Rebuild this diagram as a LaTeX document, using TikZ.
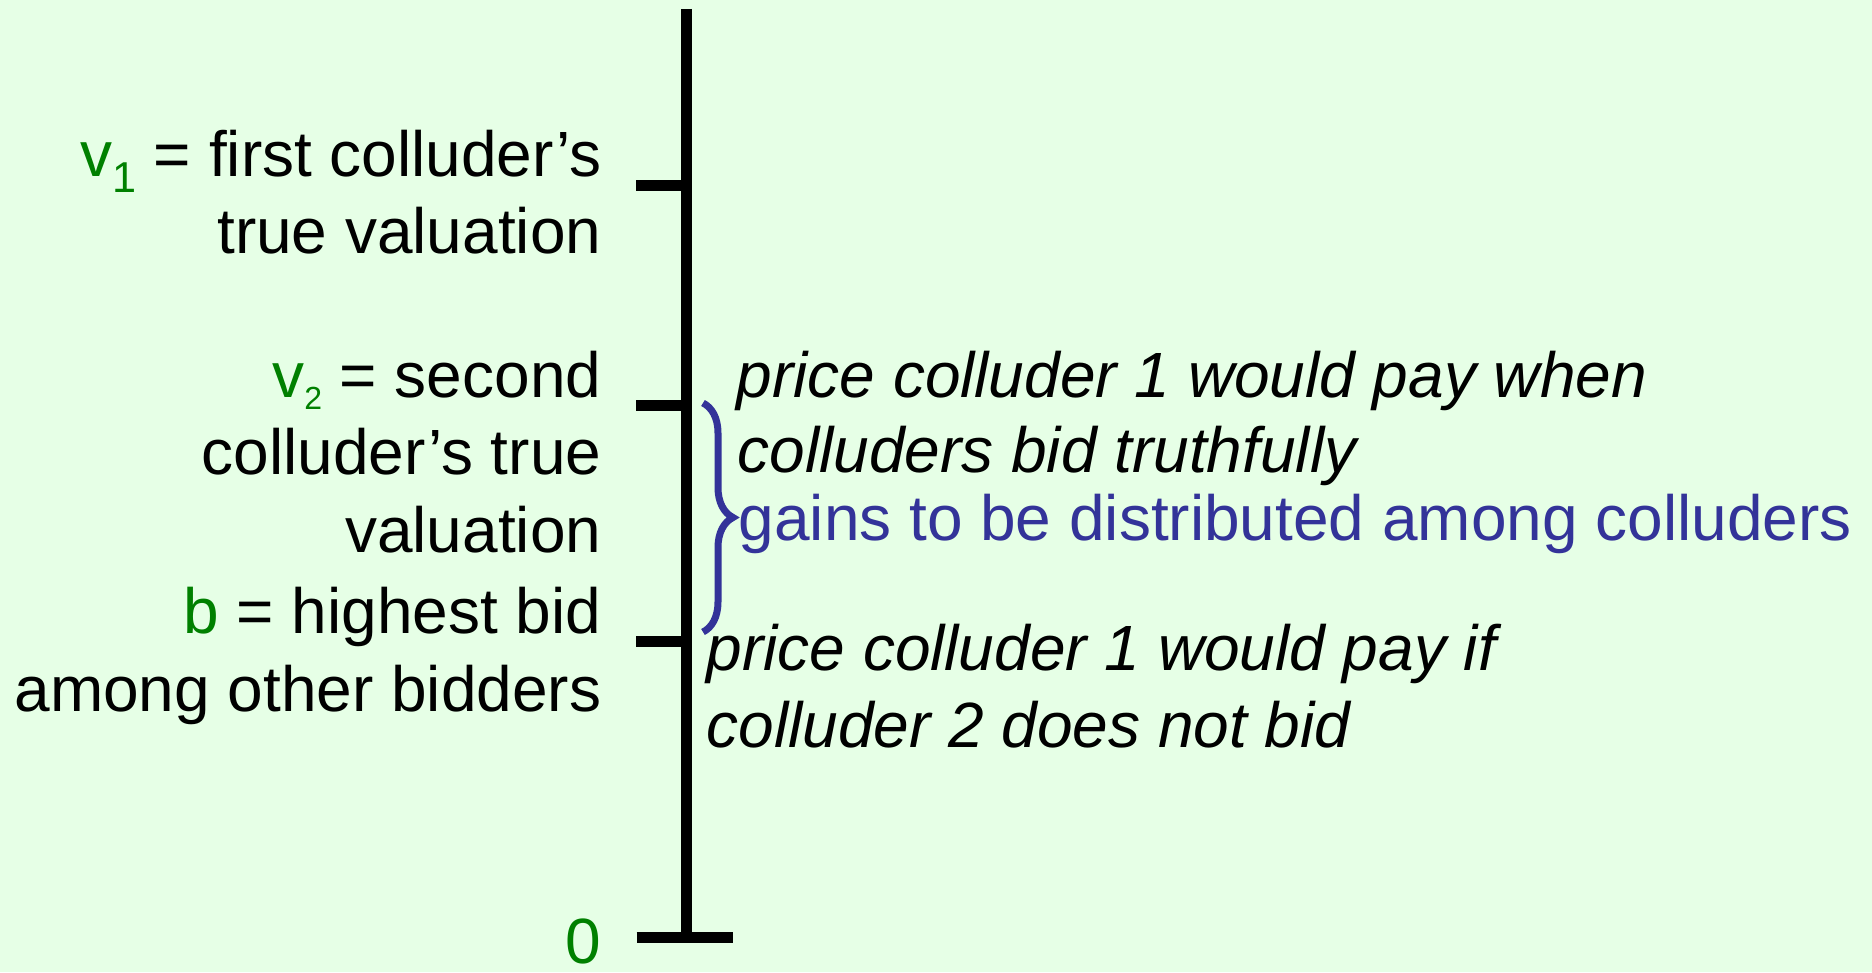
\documentclass[tikz,border=0pt]{standalone}
\usepackage{fontspec}
\setmainfont{Liberation Sans}
\usepackage{tikz}
\usetikzlibrary{positioning, decorations.pathreplacing}
\usepackage{color}

\definecolor{bggreen}{RGB}{230,255,230}
\definecolor{valgreen}{RGB}{0,128,0}
\definecolor{gainblue}{RGB}{51,51,153}

% green value with a lowered index
\newcommand{\valsub}[4]{\textcolor{valgreen}{#1\raisebox{-#4}{\fontsize{#3}{#3}\selectfont #2}}}

\tikzset{
    lbl/.style={font=\fontsize{18.2pt}{21.9pt}\selectfont, inner sep=0pt},
    leftlbl/.style={lbl, anchor=base east},
    pricelbl/.style={lbl, anchor=base west, font=\fontsize{18.2pt}{21.9pt}\selectfont\itshape},
    gainlbl/.style={lbl, anchor=base west, text=gainblue},
    axisline/.style={line width=0.11cm},
}

\begin{document}
\begin{tikzpicture}
        % Background and size of the picture
        \fill[bggreen] (0,0) rectangle (18.72,9.72);
        \useasboundingbox (0,0) rectangle (18.72,9.72);

        % Points on the axis
        \coordinate (top) at (6.86,9.63);
        \coordinate (v1) at (6.86,7.865);
        \coordinate (v2) at (6.86,5.66);
        \coordinate (b) at (6.86,3.30);
        \coordinate (zero) at (6.86,0.345);

        % Draw the axis and the ticks
        \draw[axisline] (top) -- (zero);
        \draw[axisline] (v1) -- ++(-0.5,0);
        \draw[axisline] (v2) -- ++(-0.5,0);
        \draw[axisline] (b) -- ++(-0.5,0);
        \draw[axisline] (zero) ++(-0.495,0) -- ++(0.96,0);

        % Add text left of the axis
        \node[leftlbl] (v1a) at (6.02,7.95) {\valsub{v}{1}{12.3pt}{4.5pt} = first colluder’s};
        \node[leftlbl] (v1b) at (6.02,7.18) {true valuation};
        \node[leftlbl] (v2a) at (6.02,5.74) {\valsub{v}{2}{9.1pt}{3.4pt} = second};
        \node[leftlbl] (v2b) at (6.02,4.97) {colluder’s true};
        \node[leftlbl] (v2c) at (6.02,4.20) {valuation};
        \node[leftlbl] (ba) at (6.02,3.38) {\textcolor{valgreen}{b} = highest bid};
        \node[leftlbl] (bb) at (6.02,2.60) {among other bidders};
        \node[leftlbl, text=valgreen] (zlbl) at (6.02,0.08) {0};

        % Draw the brace
        \coordinate (gtop) at (7.03,5.69);
        \coordinate (gbot) at (7.03,3.40);
        \draw[gainblue, line width=0.07cm, decorate, decoration={brace, amplitude=0.30cm}] (gtop) -- (gbot);

        % Add text right of the axis
        \node[pricelbl] (pa) at (7.36,5.74) {price colluder 1 would pay when};
        \node[pricelbl] (pb) at (7.37,4.99) {colluders bid truthfully};
        \node[gainlbl] (gain) at (7.38,4.31) {gains to be distributed among colluders};
        \node[pricelbl] (qa) at (7.06,3.02) {price colluder 1 would pay if};
        \node[pricelbl] (qb) at (7.06,2.24) {colluder 2 does not bid};
\end{tikzpicture}
\end{document}
